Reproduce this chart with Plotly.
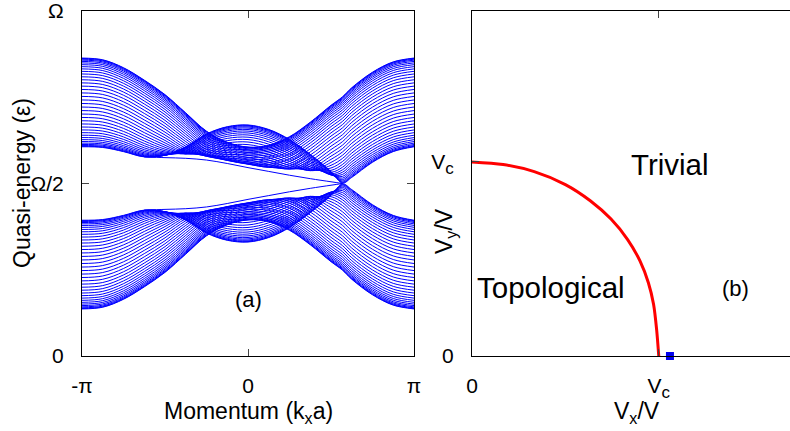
import numpy as np
import plotly.graph_objects as go

W, H = 790, 431
FONT = "Liberation Sans, Arial, Helvetica, sans-serif"

# ---------------- panel (a): ribbon quasi-energy spectrum ----------------
# momentum samples, in units of pi/a
k_pts = [-1, -0.875, -0.75, -0.625, -0.5, -0.375, -0.25, -0.125, 0,
         0.125, 0.25, 0.375, 0.5, 0.57, 0.625, 0.75, 0.875, 1]

# quasi-energy (units of Omega) of the two boundary subbands of each band
upper_inner = [0.606, 0.604, 0.592, 0.577, 0.582, 0.607, 0.644, 0.665, 0.670,
               0.657, 0.628, 0.585, 0.535, 0.500, 0.517, 0.561, 0.592, 0.606]
upper_outer = [0.864, 0.859, 0.836, 0.800, 0.758, 0.705, 0.652, 0.620, 0.606,
               0.611, 0.636, 0.678, 0.727, 0.752, 0.778, 0.823, 0.853, 0.864]
lower_inner = [0.394, 0.396, 0.408, 0.423, 0.418, 0.393, 0.356, 0.335, 0.330,
               0.343, 0.372, 0.415, 0.465, 0.500, 0.483, 0.439, 0.408, 0.394]
lower_outer = [0.136, 0.141, 0.164, 0.200, 0.242, 0.295, 0.348, 0.380, 0.394,
               0.389, 0.364, 0.322, 0.273, 0.248, 0.222, 0.177, 0.147, 0.136]

# chiral edge states crossing the gap
k_edge = [-0.625, -0.5, -0.375, -0.25, -0.125, 0, 0.125, 0.25, 0.375, 0.5, 0.57]
upper_edge = [0.577, 0.575, 0.573, 0.568, 0.558, 0.546, 0.535, 0.524, 0.514, 0.505, 0.500]
lower_edge = [0.423, 0.425, 0.427, 0.432, 0.442, 0.454, 0.465, 0.476, 0.486, 0.495, 0.500]

n_subbands = 38        # transverse subbands per band
curvature = 0.0157     # transverse dispersion of the squared gap

# ---------------- panel (b): phase diagram ----------------
v_c = 0.9
vx_boundary = [0, 0.15, 0.30, 0.45, 0.57, 0.67, 0.75, 0.81, 0.85, 0.875, 0.89, 0.9]
vy_boundary = [0.9, 0.888, 0.855, 0.795, 0.72, 0.635, 0.54, 0.44, 0.34, 0.24, 0.12, 0]
point_vx = [0.954]
point_vy = [0.0]

VC_LABEL = "V<sub><span style='font-size:17px'>c</span></sub>"


def band_lines(inner, outer, sign):
    """Subband curves of one band, joined into a single gapped polyline."""
    ui = (np.array(inner) - 0.5) ** 2
    uo = (np.array(outer) - 0.5) ** 2
    xs, ys = [], []
    for j in range(1, n_subbands + 1):
        c = np.cos(j * np.pi / (n_subbands + 1))
        u = 0.5 * (ui + uo) + 0.5 * (ui - uo) * c + curvature * (c * c - 1)
        e = 0.5 + sign * np.sqrt(np.clip(u, 0, None))
        xs += list(k_pts) + [None]
        ys += list(e) + [None]
    return xs, ys


def px_x(p):
    return p / W


def px_y(p):
    return 1 - p / H


fig = go.Figure()
blue = "#0000ff"
for inner, outer, sign in [(upper_inner, upper_outer, 1), (lower_inner, lower_outer, -1)]:
    xs, ys = band_lines(inner, outer, sign)
    fig.add_trace(go.Scatter(x=xs, y=ys, mode="lines", xaxis="x", yaxis="y",
                             line=dict(color=blue, width=1, shape="spline", smoothing=1),
                             hoverinfo="skip", showlegend=False))
for edge in (upper_edge, lower_edge):
    fig.add_trace(go.Scatter(x=k_edge, y=edge, mode="lines", xaxis="x", yaxis="y",
                             line=dict(color=blue, width=1, shape="spline", smoothing=1),
                             hoverinfo="skip", showlegend=False))

fig.add_trace(go.Scatter(x=vx_boundary, y=vy_boundary, mode="lines", xaxis="x2", yaxis="y2",
                         line=dict(color="#ff0000", width=3, shape="spline", smoothing=0.8),
                         hoverinfo="skip", showlegend=False))
fig.add_trace(go.Scatter(x=point_vx, y=point_vy, mode="markers", xaxis="x2", yaxis="y2",
                         marker=dict(symbol="square", size=8, color="#0000ee"),
                         cliponaxis=False, hoverinfo="skip", showlegend=False))

axis_common = dict(showline=True, linecolor="black", linewidth=1, ticks="inside",
                   ticklen=7, tickcolor="#444", tickwidth=1, showgrid=False,
                   zeroline=False, automargin=False, ticklabeloverflow="allow",
                   tickfont=dict(family=FONT, size=21, color="black"))

y_dom = [px_y(356), px_y(11)]
fig.update_layout(
    template="none",
    width=W, height=H, margin=dict(l=0, r=0, t=0, b=0, pad=0),
    paper_bgcolor="white", plot_bgcolor="white",
    font=dict(family=FONT, size=21, color="black"),
    xaxis=dict(domain=[px_x(82), px_x(414)], range=[-1, 1], mirror="ticks",
               tickvals=[-1, 0, 1], ticktext=["-π", "0", "π"], anchor="y",
               ticklabelstandoff=11, **axis_common),
    yaxis=dict(domain=y_dom, range=[0, 1], mirror="ticks",
               tickvals=[0, 0.5, 1], ticktext=["0", "Ω/2", "Ω"], anchor="x",
               ticklabelstandoff=13, **axis_common),
    xaxis2=dict(domain=[px_x(472), 1], range=[0, 1.6 * (790 - 472) / 332], mirror="ticks",
                tickvals=[0, v_c], ticktext=["0", VC_LABEL], anchor="y2",
                ticklabelstandoff=11, **axis_common),
    yaxis2=dict(domain=y_dom, range=[0, 1.6], mirror=False,
                tickvals=[0, v_c], ticktext=["0", VC_LABEL], anchor="x2",
                ticklabelstandoff=13, **axis_common),
)


def label(text, x, y, size, angle=0):
    fig.add_annotation(text=text, x=px_x(x), y=px_y(y), xref="paper", yref="paper",
                       showarrow=False, textangle=angle, xanchor="center", yanchor="middle",
                       font=dict(family=FONT, size=size, color="black"))


label("Momentum (k<sub>x</sub>a)", 248, 412, 23)
label("Quasi-energy (ε)", 22, 183, 23, -90)
label("(a)", 248, 299, 22)
label("V<sub>x</sub>/V", 637, 412, 23)
label("V<sub>y</sub>/V", 445, 231, 23, -90)
label("Trivial", 670, 164, 29.5)
label("Topological", 551, 287, 29.5)
label("(b)", 735, 288, 22)

fig.write_html("out.html")
